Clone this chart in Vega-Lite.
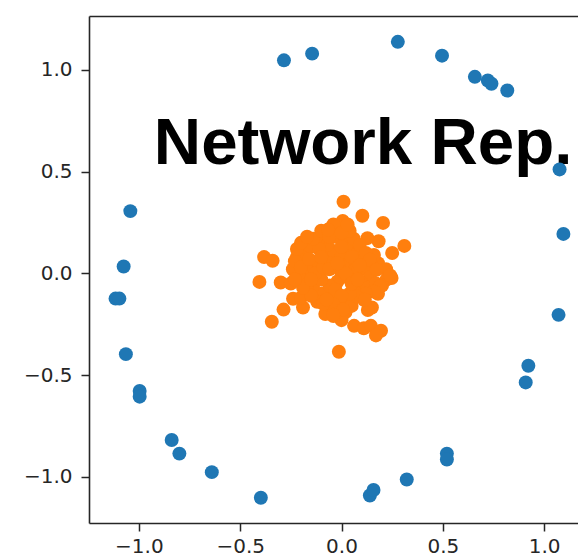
{
  "$schema": "https://vega.github.io/schema/vega-lite/v6.json",
  "autosize": "none",
  "width": 489,
  "height": 507,
  "padding": {"left": 89, "top": 16, "right": 0, "bottom": 37},
  "background": "white",
  "config": {
    "view": {"stroke": null},
    "axis": {
      "grid": false,
      "title": null,
      "labelFont": "DejaVu Sans",
      "labelFontSize": 20,
      "labelColor": "#262626",
      "tickColor": "#262626",
      "tickSize": 8,
      "tickWidth": 1.5,
      "domainColor": "#262626",
      "domainWidth": 1.6,
      "labelFlush": false,
      "labelOverlap": false
    }
  },
  "datasets": {
    "pts": [
      {"x": -0.284, "y": 1.047, "s": "a"},
      {"x": -0.145, "y": 1.080, "s": "a"},
      {"x": 0.278, "y": 1.138, "s": "a"},
      {"x": 0.496, "y": 1.070, "s": "a"},
      {"x": 0.658, "y": 0.966, "s": "a"},
      {"x": 0.722, "y": 0.948, "s": "a"},
      {"x": 0.740, "y": 0.932, "s": "a"},
      {"x": 0.818, "y": 0.899, "s": "a"},
      {"x": 1.076, "y": 0.511, "s": "a"},
      {"x": 1.095, "y": 0.194, "s": "a"},
      {"x": -1.042, "y": 0.306, "s": "a"},
      {"x": -1.075, "y": 0.034, "s": "a"},
      {"x": -1.115, "y": -0.124, "s": "a"},
      {"x": -1.096, "y": -0.124, "s": "a"},
      {"x": -1.064, "y": -0.397, "s": "a"},
      {"x": -0.996, "y": -0.578, "s": "a"},
      {"x": -0.996, "y": -0.606, "s": "a"},
      {"x": -0.838, "y": -0.819, "s": "a"},
      {"x": -0.800, "y": -0.886, "s": "a"},
      {"x": -0.640, "y": -0.977, "s": "a"},
      {"x": -0.398, "y": -1.103, "s": "a"},
      {"x": 0.140, "y": -1.092, "s": "a"},
      {"x": 0.158, "y": -1.065, "s": "a"},
      {"x": 0.322, "y": -1.013, "s": "a"},
      {"x": 0.520, "y": -0.886, "s": "a"},
      {"x": 0.520, "y": -0.915, "s": "a"},
      {"x": 0.922, "y": -0.454, "s": "a"},
      {"x": 0.909, "y": -0.536, "s": "a"},
      {"x": 1.071, "y": -0.204, "s": "a"},
      {"x": 0.010, "y": 0.352, "s": "b"},
      {"x": 0.103, "y": 0.283, "s": "b"},
      {"x": 0.205, "y": 0.248, "s": "b"},
      {"x": 0.310, "y": 0.135, "s": "b"},
      {"x": 0.250, "y": 0.100, "s": "b"},
      {"x": 0.183, "y": 0.158, "s": "b"},
      {"x": 0.128, "y": 0.173, "s": "b"},
      {"x": 0.006, "y": 0.258, "s": "b"},
      {"x": -0.060, "y": 0.218, "s": "b"},
      {"x": -0.115, "y": 0.169, "s": "b"},
      {"x": -0.382, "y": 0.080, "s": "b"},
      {"x": -0.340, "y": 0.062, "s": "b"},
      {"x": -0.405, "y": -0.042, "s": "b"},
      {"x": -0.300, "y": -0.045, "s": "b"},
      {"x": -0.344, "y": -0.238, "s": "b"},
      {"x": -0.286, "y": -0.178, "s": "b"},
      {"x": -0.239, "y": -0.125, "s": "b"},
      {"x": -0.190, "y": -0.168, "s": "b"},
      {"x": -0.013, "y": -0.385, "s": "b"},
      {"x": 0.062, "y": -0.258, "s": "b"},
      {"x": 0.110, "y": -0.270, "s": "b"},
      {"x": 0.145, "y": -0.258, "s": "b"},
      {"x": 0.195, "y": -0.282, "s": "b"},
      {"x": 0.170, "y": -0.305, "s": "b"},
      {"x": 0.150, "y": -0.168, "s": "b"},
      {"x": 0.222, "y": -0.031, "s": "b"},
      {"x": 0.247, "y": -0.023, "s": "b"},
      {"x": -0.20, "y": 0.05, "s": "b"},
      {"x": -0.18, "y": 0.10, "s": "b"},
      {"x": -0.15, "y": 0.13, "s": "b"},
      {"x": -0.12, "y": 0.17, "s": "b"},
      {"x": -0.08, "y": 0.20, "s": "b"},
      {"x": -0.03, "y": 0.18, "s": "b"},
      {"x": 0.02, "y": 0.16, "s": "b"},
      {"x": 0.05, "y": 0.12, "s": "b"},
      {"x": 0.08, "y": 0.10, "s": "b"},
      {"x": 0.10, "y": 0.06, "s": "b"},
      {"x": 0.12, "y": 0.02, "s": "b"},
      {"x": 0.14, "y": -0.02, "s": "b"},
      {"x": 0.10, "y": -0.05, "s": "b"},
      {"x": 0.06, "y": -0.08, "s": "b"},
      {"x": 0.03, "y": -0.12, "s": "b"},
      {"x": -0.01, "y": -0.15, "s": "b"},
      {"x": -0.05, "y": -0.12, "s": "b"},
      {"x": -0.10, "y": -0.10, "s": "b"},
      {"x": -0.14, "y": -0.06, "s": "b"},
      {"x": -0.18, "y": -0.02, "s": "b"},
      {"x": -0.21, "y": 0.00, "s": "b"},
      {"x": -0.16, "y": 0.03, "s": "b"},
      {"x": -0.12, "y": 0.06, "s": "b"},
      {"x": -0.08, "y": 0.09, "s": "b"},
      {"x": -0.04, "y": 0.11, "s": "b"},
      {"x": 0.00, "y": 0.08, "s": "b"},
      {"x": 0.04, "y": 0.05, "s": "b"},
      {"x": 0.07, "y": 0.02, "s": "b"},
      {"x": 0.03, "y": -0.02, "s": "b"},
      {"x": -0.02, "y": -0.04, "s": "b"},
      {"x": -0.06, "y": -0.06, "s": "b"},
      {"x": -0.10, "y": -0.03, "s": "b"},
      {"x": -0.13, "y": 0.00, "s": "b"},
      {"x": -0.09, "y": 0.03, "s": "b"},
      {"x": -0.05, "y": 0.05, "s": "b"},
      {"x": -0.01, "y": 0.02, "s": "b"},
      {"x": 0.02, "y": 0.00, "s": "b"},
      {"x": -0.03, "y": -0.08, "s": "b"},
      {"x": 0.08, "y": -0.10, "s": "b"},
      {"x": 0.11, "y": -0.13, "s": "b"},
      {"x": 0.13, "y": -0.18, "s": "b"},
      {"x": -0.07, "y": 0.14, "s": "b"},
      {"x": -0.11, "y": 0.12, "s": "b"},
      {"x": 0.00, "y": 0.13, "s": "b"},
      {"x": 0.06, "y": 0.17, "s": "b"},
      {"x": -0.17, "y": -0.08, "s": "b"},
      {"x": -0.20, "y": -0.12, "s": "b"},
      {"x": -0.12, "y": -0.14, "s": "b"},
      {"x": -0.06, "y": -0.17, "s": "b"},
      {"x": 0.02, "y": -0.19, "s": "b"},
      {"x": 0.05, "y": -0.16, "s": "b"},
      {"x": 0.18, "y": 0.05, "s": "b"},
      {"x": 0.16, "y": 0.09, "s": "b"},
      {"x": 0.13, "y": -0.07, "s": "b"},
      {"x": -0.22, "y": 0.08, "s": "b"},
      {"x": 0.17, "y": -0.05, "s": "b"},
      {"x": 0.04, "y": 0.21, "s": "b"},
      {"x": -0.04, "y": 0.24, "s": "b"},
      {"x": -0.14, "y": 0.17, "s": "b"},
      {"x": 0.22, "y": 0.02, "s": "b"},
      {"x": 0.20, "y": -0.06, "s": "b"},
      {"x": 0.24, "y": -0.01, "s": "b"},
      {"x": 0.18, "y": -0.10, "s": "b"},
      {"x": -0.04, "y": -0.21, "s": "b"},
      {"x": 0.00, "y": -0.23, "s": "b"},
      {"x": -0.08, "y": -0.20, "s": "b"},
      {"x": -0.24, "y": 0.02, "s": "b"},
      {"x": -0.25, "y": -0.05, "s": "b"},
      {"x": -0.23, "y": 0.06, "s": "b"},
      {"x": -0.22, "y": 0.12, "s": "b"},
      {"x": -0.20, "y": 0.15, "s": "b"},
      {"x": -0.17, "y": 0.18, "s": "b"},
      {"x": -0.10, "y": 0.21, "s": "b"},
      {"x": -0.06, "y": 0.18, "s": "b"},
      {"x": 0.00, "y": 0.20, "s": "b"},
      {"x": 0.03, "y": 0.24, "s": "b"},
      {"x": 0.09, "y": 0.14, "s": "b"},
      {"x": 0.12, "y": 0.10, "s": "b"},
      {"x": 0.14, "y": 0.067, "s": "b"},
      {"x": 0.173, "y": 0.018, "s": "b"},
      {"x": 0.19, "y": -0.064, "s": "b"},
      {"x": 0.16, "y": -0.09, "s": "b"},
      {"x": 0.12, "y": -0.10, "s": "b"},
      {"x": 0.074, "y": -0.113, "s": "b"},
      {"x": 0.115, "y": -0.129, "s": "b"},
      {"x": 0.04, "y": -0.10, "s": "b"},
      {"x": 0.00, "y": -0.11, "s": "b"},
      {"x": -0.04, "y": -0.15, "s": "b"},
      {"x": -0.09, "y": -0.15, "s": "b"},
      {"x": -0.074, "y": -0.129, "s": "b"},
      {"x": -0.15, "y": -0.11, "s": "b"},
      {"x": -0.19, "y": -0.07, "s": "b"},
      {"x": -0.23, "y": -0.03, "s": "b"},
      {"x": -0.20, "y": 0.03, "s": "b"},
      {"x": -0.16, "y": 0.07, "s": "b"},
      {"x": -0.10, "y": 0.08, "s": "b"},
      {"x": -0.06, "y": 0.02, "s": "b"},
      {"x": 0.05, "y": 0.08, "s": "b"},
      {"x": 0.09, "y": 0.04, "s": "b"},
      {"x": 0.05, "y": -0.05, "s": "b"},
      {"x": -0.02, "y": 0.05, "s": "b"},
      {"x": 0.08, "y": -0.03, "s": "b"},
      {"x": -0.15, "y": -0.03, "s": "b"},
      {"x": -0.066, "y": 0.215, "s": "b"},
      {"x": 0.008, "y": -0.178, "s": "b"},
      {"x": -0.041, "y": -0.203, "s": "b"}
    ],
    "lbl": [
      {"x": -0.926, "y": 0.539, "t": "Network Rep."}
    ]
  },
  "layer": [
    {
      "data": {"name": "lbl"},
      "mark": {"type": "text", "align": "left", "baseline": "alphabetic", "font": "Liberation Sans", "fontWeight": "bold", "fontSize": 65.5, "color": "#000000"},
      "encoding": {
        "x": {"field": "x", "type": "quantitative", "scale": {"domain": [-1.246, 1.167], "nice": false, "zero": false}, "axis": {"orient": "top", "labels": false, "ticks": false, "title": null}},
        "y": {"field": "y", "type": "quantitative", "scale": {"domain": [-1.227, 1.265], "nice": false, "zero": false}, "axis": null},
        "text": {"field": "t"}
      }
    },
    {
      "data": {"name": "pts"},
      "mark": {"type": "circle", "size": 195, "opacity": 1},
      "encoding": {
        "x": {"field": "x", "type": "quantitative", "scale": {"domain": [-1.246, 1.167], "nice": false, "zero": false}, "axis": {"orient": "bottom", "values": [-1, -0.5, 0, 0.5, 1], "format": ".1f", "labelPadding": 5}},
        "y": {"field": "y", "type": "quantitative", "scale": {"domain": [-1.227, 1.265], "nice": false, "zero": false}, "axis": {"orient": "left", "values": [-1, -0.5, 0, 0.5, 1], "format": ".1f", "labelPadding": 9}},
        "color": {"field": "s", "type": "nominal", "scale": {"domain": ["a", "b"], "range": ["#1f77b4", "#ff7f0e"]}, "legend": null}
      }
    }
  ],
  "resolve": {"axis": {"x": "independent", "y": "independent"}}
}
